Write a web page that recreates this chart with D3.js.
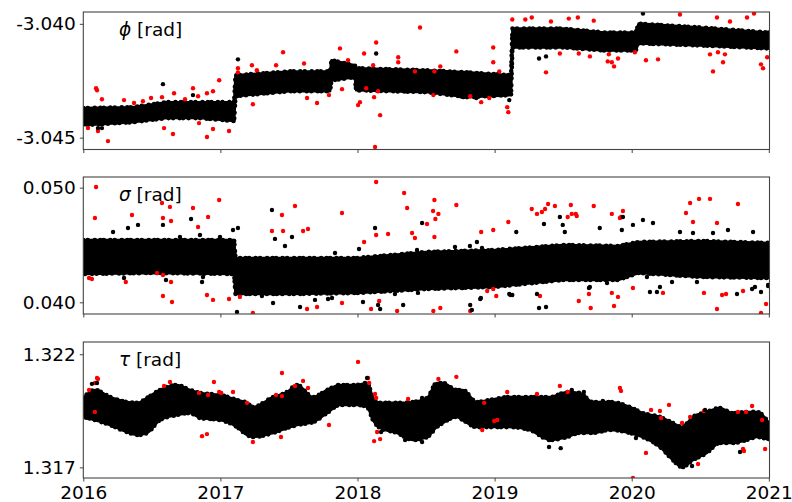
<!DOCTYPE html>
<html><head><meta charset="utf-8">
<script src="https://cdn.jsdelivr.net/npm/d3@7"></script>
<style>body{margin:0;background:#fff}svg{display:block}text{font-family:"DejaVu Sans",sans-serif}</style>
</head><body><svg id="c" width="792" height="502"></svg>
<script>
const yearTicks = [2016, 2017, 2018, 2019, 2020, 2021];
const phiTicks = [-3.045, -3.040];
const sigmaTicks = [0.040, 0.050];
const tauTicks = [1.317, 1.322];

// dense black band: [year, low, high]
const phiBand = [
 [2016.00,-3.04445,-3.04370],[2016.36,-3.04432,-3.04366],[2016.61,-3.04414,-3.04344],[2016.85,-3.04414,-3.04344],
 [2017.10,-3.04427,-3.04344],[2017.11,-3.04318,-3.04226],[2017.50,-3.04296,-3.04209],[2017.80,-3.04296,-3.04209],
 [2017.81,-3.04248,-3.04160],[2017.98,-3.04235,-3.04182],[2017.99,-3.04292,-3.04195],[2018.50,-3.04300,-3.04204],
 [2018.80,-3.04322,-3.04213],[2019.12,-3.04313,-3.04226],[2019.13,-3.04104,-3.04021],[2019.50,-3.04104,-3.04021],
 [2019.80,-3.04117,-3.04038],[2020.03,-3.04117,-3.04038],[2020.05,-3.04086,-3.03999],[2020.50,-3.04095,-3.04016],
 [2021.00,-3.04108,-3.04038]];
const phiRed = [
 [2016.093,-3.04283],[2016.100,-3.04292],[2016.136,-3.04331],[2016.180,-3.04515],[2016.107,-3.04471],[2016.034,-3.04458],
 [2016.297,-3.04335],[2016.370,-3.04348],[2016.435,-3.04340],[2016.494,-3.04326],[2016.589,-3.04458],[2016.654,-3.04484],
 [2016.574,-3.04322],[2016.662,-3.04305],[2016.742,-3.04331],[2016.800,-3.04283],[2016.837,-3.04318],[2016.902,-3.04305],
 [2016.946,-3.04296],[2016.991,-3.04248],[2016.902,-3.04497],[2016.946,-3.04462],[2016.844,-3.04436],[2017.063,-3.04471],
 [2017.128,-3.04195],[2017.128,-3.04213],[2017.230,-3.04182],[2017.266,-3.04204],[2017.237,-3.04353],[2017.457,-3.04125],
 [2017.872,-3.04108],[2017.931,-3.04160],[2018.048,-3.04130],[2018.136,-3.04082],[2018.114,-3.04182],[2018.456,-3.04016],
 [2018.721,-3.04121],[2018.297,-3.04147],[2018.297,-3.04169],[2017.610,-3.04174],[2017.406,-3.04182],[2017.632,-3.04326],
 [2017.705,-3.04348],[2017.792,-3.04313],[2017.887,-3.04287],[2018.004,-3.04357],[2018.018,-3.04344],[2018.121,-3.04322],
 [2018.150,-3.04296],[2018.165,-3.04401],[2018.128,-3.04541],[2018.063,-3.04283],[2018.553,-3.04313],[2018.990,-3.04104],
 [2018.990,-3.04169],[2019.034,-3.04209],[2019.092,-3.04366],[2019.100,-3.04388],[2018.902,-3.04344],[2018.961,-3.04326],
 [2018.822,-3.04318],[2018.604,-3.04187],[2018.419,-3.04209],[2018.561,-3.04209],[2020.352,-3.03959],[2020.892,-3.03955],
 [2019.271,-3.03972],[2019.129,-3.03981],[2019.224,-3.03981],[2019.411,-3.03990],[2019.541,-3.03977],[2019.607,-3.03972],
 [2019.723,-3.03986],[2020.622,-3.03972],[2020.717,-3.03990],[2020.841,-3.03972],[2019.375,-3.04213],[2020.593,-3.04209],
 [2020.666,-3.04169],[2020.680,-3.04134],[2020.943,-3.04178],[2020.958,-3.04195],[2020.988,-3.04147],[2019.871,-3.04187],
 [2019.825,-3.04165],[2019.855,-3.04169],[2019.900,-3.04152],[2019.833,-3.04134],[2020.104,-3.04160],[2020.192,-3.04156],
 [2019.476,-3.04130],[2019.614,-3.04130],[2019.695,-3.04143],[2020.571,-3.04134],[2020.629,-3.04125],[2020.023,-3.04125]];
const phiBlack = [
 [2016.581,-3.04265],[2017.128,-3.04156],[2018.136,-3.04130],[2016.800,-3.04313],[2016.107,-3.04458],[2016.136,-3.04458],
 [2020.082,-3.03955],[2019.324,-3.04152],[2019.375,-3.04143],[2018.772,-3.04322],[2018.866,-3.04326],[2019.107,-3.04335]];

const sigmaBand = [
 [2016.00,0.04247,0.04544],[2016.50,0.04256,0.04544],[2017.10,0.04247,0.04544],[2017.11,0.04072,0.04387],
 [2017.50,0.04072,0.04387],[2018.00,0.04081,0.04387],[2018.50,0.04116,0.04439],[2019.00,0.04134,0.04456],
 [2019.50,0.04195,0.04500],[2019.90,0.04195,0.04491],[2020.05,0.04256,0.04526],[2020.50,0.04221,0.04535],
 [2021.00,0.04212,0.04518]];
const sigmaRed = [
 [2016.093,0.05006],[2016.085,0.04736],[2016.355,0.04762],[2016.574,0.04866],[2016.632,0.04832],[2016.581,0.04736],
 [2016.640,0.04709],[2016.800,0.04823],[2016.910,0.04744],[2016.991,0.04893],[2016.837,0.04657],[2016.581,0.04055],
 [2016.647,0.04003],[2016.902,0.04064],[2016.946,0.04021],[2017.063,0.04029],[2016.310,0.04177],[2016.042,0.04212],
 [2016.063,0.04203],[2016.640,0.04177],[2016.581,0.04238],[2016.538,0.04256],[2017.142,0.04047],[2018.136,0.05050],
 [2018.340,0.04954],[2017.544,0.04840],[2017.449,0.04762],[2017.887,0.04779],[2018.362,0.04823],[2018.561,0.04893],
 [2018.551,0.04797],[2018.590,0.04771],[2018.568,0.04727],[2018.721,0.04849],[2017.376,0.04622],[2017.457,0.04622],
 [2017.603,0.04622],[2017.639,0.04640],[2018.136,0.04587],[2018.223,0.04596],[2018.398,0.04605],[2018.419,0.04561],
 [2018.507,0.04683],[2018.561,0.04570],[2018.048,0.04526],[2017.237,0.03907],[2017.632,0.03942],[2017.705,0.03959],
 [2017.887,0.03994],[2018.099,0.03942],[2018.158,0.04012],[2018.289,0.03924],[2018.553,0.03924],[2018.604,0.03950],
 [2018.822,0.03924],[2019.012,0.04055],[2018.946,0.04099],[2018.990,0.04116],[2019.100,0.04701],[2018.990,0.04631],
 [2018.902,0.04613],[2019.271,0.04814],[2019.309,0.04771],[2019.345,0.04788],[2019.368,0.04814],[2019.390,0.04858],
 [2019.440,0.04840],[2019.556,0.04849],[2019.563,0.04771],[2019.592,0.04771],[2019.599,0.04753],[2019.533,0.04744],
 [2019.723,0.04840],[2019.855,0.04771],[2019.914,0.04736],[2019.936,0.04797],[2019.922,0.04744],[2020.426,0.04866],
 [2020.491,0.04902],[2020.571,0.04902],[2020.396,0.04779],[2020.447,0.04701],[2020.775,0.04858],[2020.622,0.04692],
 [2019.331,0.04055],[2019.614,0.04012],[2019.701,0.03950],[2019.871,0.03968],[2019.900,0.04047],[2019.855,0.04082],
 [2019.688,0.04073],[2020.009,0.04125],[2020.228,0.04082],[2020.622,0.03942],[2020.659,0.04064],[2020.688,0.04073],
 [2020.527,0.04082],[2020.812,0.04099],[2020.980,0.03985],[2020.943,0.03907]];
const sigmaBlack = [
 [2016.786,0.04727],[2016.581,0.04675],[2016.399,0.04675],[2017.128,0.04648],[2017.121,0.03915],[2016.866,0.04177],
 [2016.297,0.04212],[2016.603,0.04195],[2017.376,0.04805],[2018.128,0.04648],[2018.471,0.04692],[2017.522,0.04570],
 [2017.384,0.03994],[2017.581,0.03959],[2018.165,0.03942],[2018.333,0.03977],[2018.822,0.03977],[2018.895,0.04029],
 [2019.115,0.04064],[2017.303,0.04055],[2017.785,0.04029],[2019.158,0.04613],[2019.476,0.04744],[2019.936,0.04744],
 [2020.082,0.04718],[2020.155,0.04692],[2019.360,0.04683],[2019.497,0.04675],[2019.324,0.03950],[2019.375,0.03959],
 [2019.107,0.04073],[2019.309,0.04073],[2019.688,0.04125],[2020.133,0.04090],[2020.184,0.04090],[2020.768,0.04073],
 [2020.878,0.04116],[2020.943,0.04090],[2020.995,0.04142],
 [2017.092,0.04631],[2017.398,0.04553],[2017.471,0.04491],[2018.011,0.04465],[2017.836,0.04430],[2018.711,0.04483],
 [2018.871,0.04526],[2018.820,0.04491],[2018.908,0.04474],[2018.434,0.04456],[2017.690,0.04021],[2017.814,0.04038],
 [2018.150,0.03977],[2018.040,0.04003],[2018.273,0.04073],[2018.441,0.04082],[2018.507,0.04134],[2018.834,0.03933],
 [2018.900,0.04038],[2018.762,0.04125],[2019.512,0.04613],[2019.767,0.04648],[2019.928,0.04631],[2020.009,0.04675],
 [2020.352,0.04613],[2020.447,0.04605],[2020.702,0.04631],[2020.593,0.04605],[2020.885,0.04613],[2019.129,0.04064],
 [2019.695,0.04134],[2019.820,0.04168],[2020.111,0.04221],[2020.294,0.04177],[2020.206,0.04134],[2020.476,0.04177],
 [2020.899,0.04134],[2020.995,0.04151],[2019.280,0.04195],[2019.426,0.04212],[2016.217,0.04613],[2016.326,0.04648],
 [2016.705,0.04570],[2016.851,0.04587],[2016.997,0.04570],[2016.873,0.04221]];

const tauBand = [
 [2016.000,1.31923,1.32007],[2016.085,1.31909,1.32042],[2016.195,1.31887,1.32011],[2016.319,1.31856,1.31989],
 [2016.399,1.31843,1.31985],[2016.465,1.31852,1.32007],[2016.559,1.31909,1.32042],[2016.683,1.31931,1.32064],
 [2016.778,1.31940,1.32042],[2016.851,1.31918,1.32029],[2016.997,1.31909,1.32020],[2017.121,1.31878,1.31998],
 [2017.194,1.31843,1.31985],[2017.238,1.31834,1.31967],[2017.384,1.31852,1.32011],[2017.486,1.31874,1.32033],
 [2017.559,1.31887,1.32064],[2017.676,1.31900,1.32011],[2017.778,1.31940,1.32042],[2017.872,1.31976,1.32064],
 [2017.996,1.31976,1.32064],[2018.069,1.31967,1.32073],[2018.113,1.31909,1.32011],[2018.165,1.31874,1.31985],
 [2018.289,1.31852,1.31985],[2018.406,1.31821,1.31989],[2018.508,1.31834,1.32007],[2018.578,1.31878,1.32073],
 [2018.622,1.31896,1.32073],[2018.724,1.31923,1.32042],[2018.768,1.31909,1.32042],[2018.870,1.31878,1.31989],
 [2018.965,1.31878,1.31998],[2019.111,1.31878,1.32011],[2019.257,1.31865,1.32011],[2019.406,1.31821,1.32011],
 [2019.530,1.31834,1.32033],[2019.621,1.31852,1.32029],[2019.716,1.31852,1.31989],[2019.840,1.31865,1.31989],
 [2019.986,1.31852,1.31967],[2020.081,1.31834,1.31940],[2020.206,1.31790,1.31923],[2020.301,1.31732,1.31896],
 [2020.367,1.31701,1.31878],[2020.446,1.31732,1.31923],[2020.548,1.31764,1.31945],[2020.643,1.31808,1.31962],
 [2020.738,1.31808,1.31940],[2020.840,1.31821,1.31945],[2020.913,1.31834,1.31945],[2021.000,1.31821,1.31896]];
const tauRed = [
 [2016.100,1.32095],[2016.107,1.32091],[2016.085,1.32073],[2016.042,1.32042],[2016.632,1.32077],[2016.589,1.32060],
 [2016.953,1.32077],[2016.991,1.32033],[2017.006,1.32029],[2017.092,1.32033],[2016.844,1.32029],[2016.910,1.32020],
 [2016.866,1.31838],[2016.902,1.31847],[2017.237,1.31812],[2016.085,1.31945],[2017.194,1.31985],[2017.449,1.32117],
 [2017.544,1.32060],[2017.603,1.32082],[2017.406,1.32020],[2017.449,1.32015],[2017.639,1.32051],[2018.004,1.32166],
 [2018.077,1.32095],[2018.085,1.32073],[2018.128,1.32024],[2018.136,1.32007],[2018.121,1.31816],[2018.165,1.31825],
 [2018.143,1.31856],[2017.792,1.31887],[2017.442,1.31834],[2018.590,1.32091],[2018.721,1.32100],[2019.092,1.32033],
 [2018.924,1.31985],[2018.910,1.31865],[2018.997,1.31905],[2019.019,1.31909],[2018.369,1.32002],[2019.476,1.32060],
 [2019.309,1.32024],[2019.533,1.32033],[2019.914,1.32051],[2019.922,1.32038],[2020.272,1.31976],[2020.141,1.31954],
 [2020.206,1.31949],[2020.104,1.31764],[2020.484,1.31715],[2020.009,1.31653],[2020.775,1.31945],[2020.834,1.31945],
 [2020.878,1.31971],[2020.367,1.31896],[2020.426,1.31923],[2020.812,1.31781],[2020.819,1.31772],[2020.973,1.31781],
 [2020.951,1.31909],[2020.214,1.31918],[2020.527,1.31949]];
const tauBlack = [
 [2016.063,1.32069],[2016.100,1.32073],[2018.070,1.32095],[2018.172,1.31856],[2019.563,1.32042],[2019.651,1.32033],
 [2019.789,1.31993],[2020.031,1.31830],[2019.482,1.31785],[2019.397,1.31790],[2020.790,1.31768],[2020.375,1.31701],
 [2020.440,1.31706],[2020.535,1.31954],[2018.471,1.32007],[2018.471,1.31812],[2018.347,1.31821]];

const svg = d3.select('#c');
const x = d3.scaleLinear().domain([2016, 2021.005]).range([83.3, 769.5]);
const fmt = d => d3.format('.3f')(d).replace('\u2212', '-');
const spine = '#444';

const panels = [
 {band: phiBand, red: phiRed, black: phiBlack, ticks: phiTicks, domain: [-3.04552, -3.03948], top: 12, bottom: 149.5, sym: '\u03D5', curve: d3.curveLinear},
 {band: sigmaBand, red: sigmaRed, black: sigmaBlack, ticks: sigmaTicks, domain: [0.03898, 0.05093], top: 177, bottom: 314, sym: '\u03C3', curve: d3.curveLinear},
 {band: tauBand, red: tauRed, black: tauBlack, ticks: tauTicks, domain: [1.31653, 1.32254], top: 342, bottom: 478, sym: '\u03C4', curve: d3.curveMonotoneX}
];

panels.forEach((p, i) => {
  const y = d3.scaleLinear().domain(p.domain).range([p.bottom, p.top]);
  const g = svg.append('g');
  const cid = 'clip' + i;
  svg.append('clipPath').attr('id', cid).append('rect')
    .attr('x', x.range()[0]).attr('y', p.top)
    .attr('width', x.range()[1] - x.range()[0]).attr('height', p.bottom - p.top);
  const plot = g.append('g').attr('clip-path', `url(#${cid})`);

  const area = d3.area().curve(p.curve).x(d => x(d[0])).y0(d => y(d[1])).y1(d => y(d[2]));
  plot.append('path').datum(p.band).attr('d', area)
    .attr('fill', '#000').attr('stroke', '#000').attr('stroke-width', 2.5).attr('stroke-linejoin', 'round');
  // beaded edge to mimic overlapping markers
  plot.append('path').datum(p.band).attr('d', area)
    .attr('fill', 'none').attr('stroke', '#000').attr('stroke-width', 4.6)
    .attr('stroke-linecap', 'round').attr('stroke-dasharray', '0 4.5 0 7 0 5.5 0 3.5 0 6.5');

  plot.selectAll('circle.r').data(p.red).join('circle').attr('class', 'r')
    .attr('cx', d => x(d[0])).attr('cy', d => y(d[1])).attr('r', 2.2).attr('fill', '#ff0000');
  plot.selectAll('circle.b').data(p.black).join('circle').attr('class', 'b')
    .attr('cx', d => x(d[0])).attr('cy', d => y(d[1])).attr('r', 2.2).attr('fill', '#000');

  g.append('rect').attr('x', x.range()[0]).attr('y', p.top)
    .attr('width', x.range()[1] - x.range()[0]).attr('height', p.bottom - p.top)
    .attr('fill', 'none').attr('stroke', spine).attr('stroke-width', 1.1);

  const ya = g.append('g').attr('transform', `translate(${x.range()[0]},0)`)
    .call(d3.axisLeft(y).tickValues(p.ticks).tickFormat(fmt).tickSize(3.5).tickPadding(4));
  ya.select('.domain').remove();
  ya.selectAll('line').attr('stroke', spine);
  ya.selectAll('text').attr('font-size', 18.5).attr('fill', '#000').attr('font-family', '"DejaVu Sans",sans-serif');

  const xa = g.append('g').attr('transform', `translate(0,${p.bottom})`)
    .call(d3.axisBottom(x).tickValues(yearTicks).tickFormat(i === 2 ? d3.format('d') : () => '').tickSize(3.5).tickPadding(4));
  xa.select('.domain').remove();
  xa.selectAll('line').attr('stroke', spine);
  xa.selectAll('text').attr('font-size', 18.5).attr('fill', '#000').attr('font-family', '"DejaVu Sans",sans-serif');

  const t = g.append('text').attr('x', 119).attr('y', p.top + 24).attr('font-size', 18.5).attr('fill', '#000');
  t.append('tspan').attr('font-style', 'italic').text(p.sym);
  t.append('tspan').text(' [rad]');
});
</script></body></html>
